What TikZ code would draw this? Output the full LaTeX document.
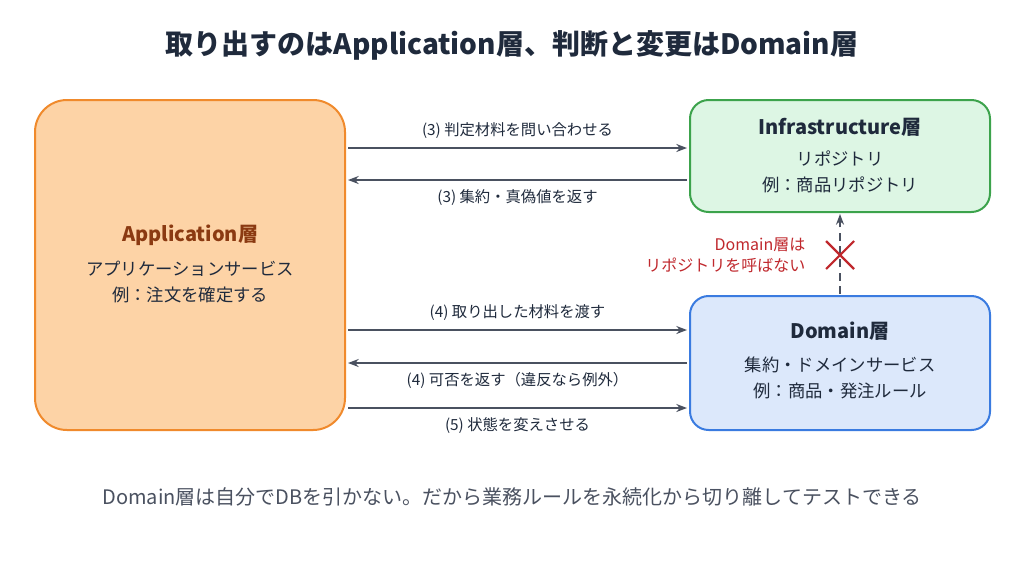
\documentclass[tikz,border=0pt]{standalone}
\usepackage{fontspec}
\setmainfont{Noto Sans CJK JP}
\usetikzlibrary{arrows.meta}
\definecolor{ink}{HTML}{1F2A3C}
\definecolor{arrowgray}{HTML}{4A5160}
\definecolor{apporange}{HTML}{F08A2C}
\definecolor{appfill}{HTML}{FDD3A6}
\definecolor{infragreen}{HTML}{3CA34C}
\definecolor{infrafill}{HTML}{DDF6E4}
\definecolor{domblue}{HTML}{3A7BE0}
\definecolor{domfill}{HTML}{DCE8FB}
\definecolor{warnred}{HTML}{C0282D}
\definecolor{apptitle}{HTML}{8B3A12}
\begin{document}
\begin{tikzpicture}[x=0.75pt,y=-0.75pt,
	layer/.style = {draw, line width=1.5pt, rounded corners=14pt, inner sep=0pt},
	flow/.style = {-{Stealth[length=8pt,width=6pt]}, arrowgray, line width=1.3pt},
	lbl/.style = {font=\fontsize{11.5}{13}\selectfont, text=ink}]
		%background and bounding box
		\useasboundingbox (0,0) rectangle (1024,576);
		\fill [white] (0,0) rectangle (1024,576);
		
		%title
		\node (title) at (512,45) {\fontsize{21}{24}\selectfont\bfseries\color{ink}取り出すのはApplication層、判断と変更はDomain層};
		
		%layers
		\draw [layer, draw=apporange, fill=appfill, rounded corners=24pt] (35,100) rectangle (345,430);
		\draw [layer, draw=infragreen, fill=infrafill] (690,100) rectangle (990,212);
		\draw [layer, draw=domblue, fill=domfill] (690,296) rectangle (990,430);
		\node (app) at (190,235) {\fontsize{15}{17}\selectfont\bfseries\color{apptitle}Application層};
		\node (appsub) at (190,282) [align=center, font=\fontsize{13}{19}\selectfont, text=ink] {アプリケーションサービス\\例：注文を確定する};
		\node (infra) at (840,127) {\fontsize{15}{17}\selectfont\bfseries\color{ink}Infrastructure層};
		\node (infrasub) at (840,172) [align=center, font=\fontsize{13}{19}\selectfont, text=ink] {リポジトリ\\例：商品リポジトリ};
		\node (dom) at (840,331) {\fontsize{15}{17}\selectfont\bfseries\color{ink}Domain層};
		\node (domsub) at (840,378) [align=center, font=\fontsize{13}{19}\selectfont, text=ink] {集約・ドメインサービス\\例：商品・発注ルール};
		
		%arrow ends
		\coordinate (a1) at (348,148); \coordinate (b1) at (687,148);
		\coordinate (a2) at (348,180); \coordinate (b2) at (687,180);
		\coordinate (a3) at (348,330); \coordinate (b3) at (687,330);
		\coordinate (a4) at (348,363); \coordinate (b4) at (687,363);
		\coordinate (a5) at (348,408); \coordinate (b5) at (687,408);
		
		\draw [flow] (a1) -- (b1) node [midway, above=3pt, lbl] {(3) 判定材料を問い合わせる};
		\draw [flow] (b2) -- (a2) node [midway, below=3pt, lbl] {(3) 集約・真偽値を返す};
		\draw [flow] (a3) -- (b3) node [midway, above=3pt, lbl] {(4) 取り出した材料を渡す};
		\draw [flow] (b4) -- (a4) node [midway, below=3pt, lbl] {(4) 可否を返す（違反なら例外）};
		\draw [flow] (a5) -- (b5) node [midway, below=3pt, lbl] {(5) 状態を変えさせる};
		
		%forbidden call
		\coordinate (d0) at (840,294); \coordinate (d1) at (840,214);
		\draw [flow, dashed, dash pattern=on 6pt off 4pt] (d0) -- (d1);
		\draw [warnred, line width=1.6pt] (826,241) -- (854,269) (826,269) -- (854,241);
		\node (warn) at (810,255) [anchor=east, align=right, font=\fontsize{12}{16}\selectfont, text=warnred] {Domain層は\\リポジトリを呼ばない};
		
		%bottom note
		\node (note) at (512,497) {\fontsize{15}{17}\selectfont\color{arrowgray}Domain層は自分でDBを引かない。だから業務ルールを永続化から切り離してテストできる};
\end{tikzpicture}
\end{document}
